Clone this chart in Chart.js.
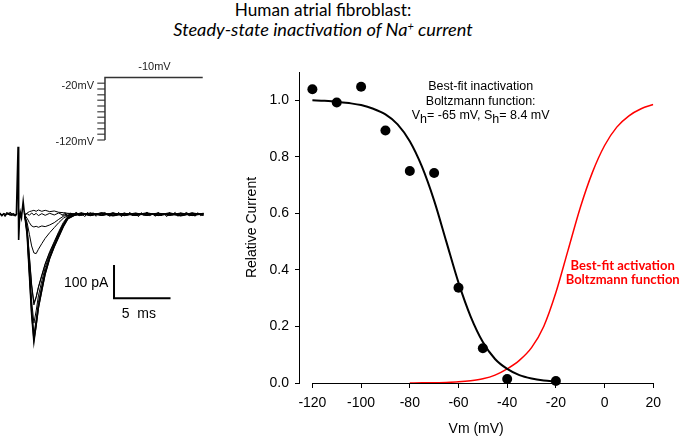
<!DOCTYPE html>
<html>
<head>
<meta charset="utf-8">
<script src="https://cdn.jsdelivr.net/npm/chart.js@4.4.1/dist/chart.umd.min.js"></script>
<style>
  body { margin:0; width:680px; height:436px; background:#fff; position:relative; overflow:hidden;
         font-family:"Liberation Sans", Arial, sans-serif; color:#000; }
  canvas { position:absolute; }
  .t { position:absolute; white-space:pre; }
  #title { left:0; width:646px; top:0.2px; text-align:center; font-family:Lato; font-size:17.2px; line-height:19.5px; }
  #title i { font-size:18.2px; }
  #title i sup { font-size:60%; vertical-align:6px; line-height:0; }
  #inact { left:480.7px; top:79.3px; transform:translateX(-50%); text-align:center; font-size:12.5px; line-height:14.2px; }
  #inact .s { position:relative; top:4px; }
  #act { left:622.7px; top:258px; transform:translateX(-50%); text-align:center; font-family:Lato; font-weight:bold;
         font-size:13px; line-height:14px; color:#ff0000; }
  .mv { font-size:11px; line-height:11px; color:#222; }
  .bar { font-size:14px; line-height:14px; }
</style>
</head>
<body>
<div id="title" class="t">Human atrial fibroblast:<br><i>Steady-state inactivation of Na<sup>+</sup> current</i></div>

<canvas id="traces" width="230" height="310" style="left:0;top:50px;width:230px;height:310px"></canvas>
<canvas id="ssi" width="450" height="436" style="left:230px;top:0;width:450px;height:436px"></canvas>

<div class="t mv" style="left:154.5px;top:60.7px;transform:translateX(-50%)">-10mV</div>
<div class="t mv" style="left:94px;top:79.7px;transform:translateX(-100%)">-20mV</div>
<div class="t mv" style="left:94px;top:135.7px;transform:translateX(-100%)">-120mV</div>
<div class="t bar" style="left:64px;top:274.9px">100 pA</div>
<div class="t bar" style="left:121.7px;top:305.8px">5  ms</div>

<div id="inact" class="t">Best-fit inactivation
Boltzmann function:
V<span class="s">h</span>= -65 mV, S<span class="s">h</span>= 8.4 mV</div>
<div id="act" class="t">Best-fit activation
Boltzmann function</div>

<script>
// ---- right panel: steady-state inactivation ----
const vmSteps = [-120, -110, -100, -90, -80, -70, -60, -50, -40, -20];
const relCurrent = [1.039, 0.992, 1.048, 0.893, 0.750, 0.743, 0.337, 0.123, 0.014, 0.007];

const inactFitV = [-120, -115, -110, -105, -100, -95, -90, -85, -80, -75, -70, -65, -60, -55, -50, -45, -40, -35, -30, -25, -20];
const inactFitY = [1.000, 0.998, 0.995, 0.990, 0.983, 0.970, 0.950, 0.915, 0.855, 0.765, 0.645, 0.500, 0.355, 0.235, 0.145, 0.085, 0.050, 0.028, 0.016, 0.009, 0.005];

const actFitV = [-80, -75, -70, -65, -60, -55, -50, -45, -40, -35, -30, -25, -20, -15, -10, -5, 0, 5, 10, 15, 20];
const actFitY = [0.000, 0.001, 0.001, 0.002, 0.004, 0.008, 0.015, 0.028, 0.050, 0.080, 0.125, 0.200, 0.320, 0.470, 0.620, 0.745, 0.840, 0.905, 0.945, 0.970, 0.985];

const xTicks = [-120, -100, -80, -60, -40, -20, 0, 20];
const yTicks = [0, 0.2, 0.4, 0.6, 0.8, 1.0];

// ---- left panel: current traces (ms, pA) ----
const leadT = [0, 0.2, 0.35, 0.55, 0.7, 0.9, 1.05, 1.25, 1.45, 1.6, 1.63, 1.67, 1.72, 1.8, 1.9, 2.05, 2.15, 2.2];
const leadI = [1, -3, 2, -1, 3, -2, 2, -3, -1, 203, 40, -77, -20, 5, -10, 38, 5, -4];

// baseline noise before the artifact and in the tail (null = gap)
const noiseT = [0, 0.15, 0.3, 0.45, 0.6, 0.75, 0.9, 1.05, 1.2, 1.35, 1.5, 1.55,
    5.5, 5.75, 6, 6.25, 6.5, 6.75, 7, 7.25, 7.5, 7.75, 8, 8.25, 8.5, 8.75, 9, 9.25, 9.5, 9.75,
    10, 10.25, 10.5, 10.75, 11, 11.25, 11.5, 11.75, 12, 12.25, 12.5, 12.75, 13, 13.25, 13.5, 13.75,
    14, 14.25, 14.5, 14.75, 15, 15.25, 15.5, 15.75, 16, 16.25, 16.5, 16.75, 17, 17.25, 17.5, 17.75, 18];
const noiseI = [5, -6, 3, -7, 6, -2, 7, -5, 4, -6, 3, null,
    -4, 5, -6, 4, -3, 7, -5, 2, -7, 6, -3, 5, -6, 3, -4, 7, -2, -6,
    5, -4, 6, -7, 3, -2, 6, -5, 4, -7, 5, -3, 7, -4, 2, -6,
    6, -5, 3, -7, 5, -2, 6, -6, 4, -3, 7, -5, 3, -6, 5, -4, 2];

const traceT = [2.2, 2.4, 2.6, 2.8, 3.0, 3.2, 3.4, 3.7, 4.0, 4.4, 4.8, 5.2, 5.6, 6.0, 6.6, 7.2, 8, 9, 10, 11, 12, 13, 14, 15, 16, 17, 18];
const trace120 = [-5, -60, -180, -300, -382, -330, -277, -225, -176, -130, -95, -65, -35, -12, -2, 4, -3, 3, -4, 2, -2, 4, -3, 2, -4, 3, -1];
const trace110 = [-5, -55, -170, -285, -362, -315, -265, -215, -170, -128, -92, -62, -33, -12, -1, -3, 4, -2, 3, -4, 3, -2, 4, -3, 2, -3, 2];
const trace100 = [-4, -58, -178, -298, -378, -335, -282, -230, -180, -133, -98, -68, -38, -14, -3, 2, -4, 4, -2, 3, -3, 2, -2, 4, -3, 2, -2];
const trace90 = [-5, -50, -155, -260, -327, -290, -245, -200, -160, -120, -88, -58, -30, -10, 0, -2, 3, -3, 2, -2, 4, -3, 2, -2, 3, -4, 1];
const trace80 = [-4, -42, -130, -215, -272, -250, -220, -185, -150, -115, -85, -55, -28, -8, 1, 3, -2, 2, -3, 3, -1, 3, -4, 2, -2, 3, -2];
const trace70 = [-4, -40, -125, -210, -266, -248, -218, -182, -148, -112, -82, -52, -25, -6, 2, -1, 2, -3, 4, -2, 2, -3, 3, -2, 4, -2, 3];
const trace60 = [-4, -25, -60, -95, -116, -118, -105, -88, -72, -55, -40, -25, -12, -4, 0, 3, -2, 4, -3, 2, -3, 3, -2, 2, -4, 3, -1];
const trace50 = [-3, -12, -25, -35, -38, -36, -39, -35, -37, -32, -25, -15, -6, -2, 1, -2, 3, -3, 2, -4, 2, -2, 3, -3, 2, -2, 3];
const trace40 = [-3, 4, 8, 10, 12, 9, 13, 9, 12, 8, 10, 6, 5, 3, 2, -2, 3, -2, 4, -3, 2, -3, 2, -2, 3, -3, 2];
const trace20 = [-2, 2, -3, 4, -2, 3, -4, 2, -3, 3, -2, 4, -3, 2, -3, 3, -2, 2, -4, 3, -2, 2, -3, 3, -2, 4, -3];

// voltage protocol (schematic, mV) and scale bar (ms, pA)
const protoT = [9.29, 9.29, 17.94];
const protoV = [-120, -10, -10];
const protoLevels = [-20, -30, -40, -50, -60, -70, -80, -90, -100, -110, -120];
const protoTickT = [8.61, 9.29];
const barT = [10.09, 10.09, 15.09];
const barI = [-152, -252, -252];

function pts(xs, ys) {
    return xs.map((x, i) => ({x: x, y: ys[i]}));
}

function traceSet(values, width) {
    return {
        data: pts(traceT, values),
        yAxisID: 'pa',
        borderColor: '#000',
        borderWidth: width,
        pointRadius: 0,
        showLine: true
    };
}

const tickPts = [];
protoLevels.forEach(v => {
    tickPts.push({x: protoTickT[0], y: v}, {x: protoTickT[1], y: v}, {x: protoTickT[1], y: null});
});

new Chart(document.getElementById('traces'), {
    type: 'scatter',
    data: {
        datasets: [
            {data: pts(leadT, leadI), yAxisID: 'pa', borderColor: '#000', borderWidth: 1.6, pointRadius: 0, showLine: true},
            {data: pts(noiseT, noiseI), yAxisID: 'pa', borderColor: '#000', borderWidth: 1, pointRadius: 0, showLine: true, spanGaps: false},
            traceSet(trace120, 1.6),
            traceSet(trace100, 1.2),
            traceSet(trace110, 1),
            traceSet(trace90, 1),
            traceSet(trace80, 1),
            traceSet(trace70, 1),
            traceSet(trace60, 1),
            traceSet(trace50, 1),
            traceSet(trace40, 1),
            traceSet(trace20, 1),
            {data: pts(protoT, protoV), yAxisID: 'mv', borderColor: '#333', borderWidth: 1.5, pointRadius: 0, showLine: true},
            {data: tickPts, yAxisID: 'mv', borderColor: '#666', borderWidth: 1.5, pointRadius: 0, showLine: true, spanGaps: false},
            {data: pts(barT, barI), yAxisID: 'pa', borderColor: '#000', borderWidth: 2, pointRadius: 0, showLine: true}
        ]
    },
    options: {
        responsive: false,
        animation: false,
        layout: {padding: 0},
        plugins: {legend: {display: false}, tooltip: {enabled: false}},
        scales: {
            x: {type: 'linear', display: false, min: 0, max: 20.354},
            pa: {type: 'linear', display: false, min: -437.5, max: 493.4},
            mv: {type: 'linear', display: false, min: -508, max: 38.7}
        }
    }
});

const xAxisLine = {
    id: 'xAxisLine',
    beforeDatasetsDraw(chart) {
        const {ctx, scales: {x, y}} = chart;
        const yy = Math.round(y.getPixelForValue(0)) + 0.5;
        ctx.save();
        ctx.strokeStyle = '#000';
        ctx.lineWidth = 1;
        ctx.beginPath();
        ctx.moveTo(x.getPixelForValue(xTicks[0]), yy);
        ctx.lineTo(x.getPixelForValue(xTicks[xTicks.length - 1]), yy);
        ctx.stroke();
        ctx.restore();
    }
};

new Chart(document.getElementById('ssi'), {
    type: 'scatter',
    data: {
        datasets: [
            {
                label: 'data',
                data: pts(vmSteps, relCurrent),
                backgroundColor: '#000',
                borderWidth: 0,
                pointRadius: 5,
                clip: false
            },
            {
                label: 'inactivation fit',
                data: pts(inactFitV, inactFitY),
                showLine: true,
                borderColor: '#000',
                borderWidth: 2,
                pointRadius: 0,
                cubicInterpolationMode: 'monotone'
            },
            {
                label: 'activation fit',
                data: pts(actFitV, actFitY),
                showLine: true,
                borderColor: '#ff0000',
                borderWidth: 1.5,
                pointRadius: 0,
                cubicInterpolationMode: 'monotone'
            }
        ]
    },
    options: {
        responsive: false,
        animation: false,
        layout: {padding: {top: 72, right: 26.7, left: 0, bottom: 0}},
        plugins: {legend: {display: false}, tooltip: {enabled: false}},
        scales: {
            x: {
                type: 'linear',
                min: -125.5,
                max: 20,
                afterBuildTicks: s => { s.ticks = xTicks.map(v => ({value: v})); },
                afterFit: s => { s.height = 53; },
                grid: {drawOnChartArea: false, tickLength: 5, color: '#000'},
                border: {display: false},
                ticks: {
                    color: '#000', padding: 7,
                    font: {family: 'Liberation Sans', size: 14},
                    callback: v => String(v)
                },
                title: {
                    display: true, text: 'Vm (mV)', color: '#000',
                    font: {family: 'Liberation Sans', size: 14, lineHeight: 1},
                    padding: {top: 0, bottom: 0}
                }
            },
            y: {
                type: 'linear',
                min: 0,
                max: 1.1,
                afterBuildTicks: s => { s.ticks = yTicks.map(v => ({value: v})); },
                afterFit: s => { s.width = 69; },
                grid: {drawOnChartArea: false, tickLength: 4, color: '#000'},
                border: {display: true, color: '#000', width: 1},
                ticks: {
                    color: '#000', padding: 6,
                    font: {family: 'Liberation Sans', size: 14},
                    callback: v => v.toFixed(1)
                },
                title: {
                    display: true, text: 'Relative Current', color: '#000',
                    font: {family: 'Liberation Sans', size: 14, lineHeight: 1},
                    padding: {top: 15, bottom: 0}
                }
            }
        }
    },
    plugins: [xAxisLine]
});
</script>
</body>
</html>
